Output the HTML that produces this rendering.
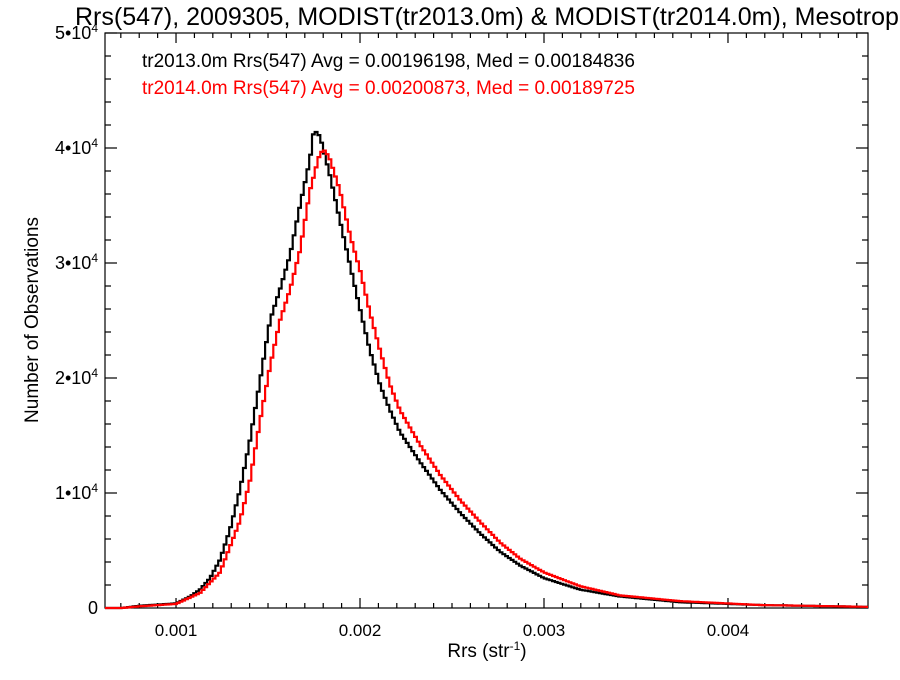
<!DOCTYPE html>
<html><head><meta charset="utf-8"><style>
body{margin:0;background:#fff;width:900px;height:675px;overflow:hidden}
svg text{font-family:"Liberation Sans",Helvetica,sans-serif}
</style></head><body>
<svg id="chart" width="900" height="675" xmlns="http://www.w3.org/2000/svg">
<text x="75" y="25" font-size="25">Rrs(547), 2009305, MODIST(tr2013.0m) &amp; MODIST(tr2014.0m), Mesotrophic</text>
<rect x="105" y="33" width="763" height="575" fill="none" stroke="#000" stroke-width="1.2"/>
<g id="ticks"></g>
<g id="series"></g>
<text x="142" y="67" font-size="19">tr2013.0m Rrs(547) Avg = 0.00196198, Med = 0.00184836</text>
<text x="142" y="94" font-size="19" fill="#ff0000">tr2014.0m Rrs(547) Avg = 0.00200873, Med = 0.00189725</text>
<text x="487" y="657" font-size="19" text-anchor="middle">Rrs (str<tspan dy="-7" font-size="12">-1</tspan><tspan dy="7">)</tspan></text>
<text transform="translate(38,320) rotate(-90)" font-size="19" text-anchor="middle">Number of Observations</text>
</svg>
<script>
const xTicks=[0.001,0.002,0.003,0.004];
const xTickLabels=["0.001","0.002","0.003","0.004"];
const yTicks=[0,10000,20000,30000,40000,50000];
const yTickLabels=["0","1","2","3","4","5"];
const xBlack=[0.000804,0.001,0.001076,0.00113,0.001185,0.001239,0.001293,0.001348,0.001402,0.001457,0.001511,0.001565,0.00162,0.001674,0.001728,0.00175,0.001783,0.001837,0.001891,0.001946,0.002,0.002054,0.002109,0.002163,0.002217,0.002326,0.002435,0.002543,0.002652,0.002761,0.00287,0.003,0.003196,0.003413,0.003739,0.004174,0.004761];
const yBlack=[200,400,1000,1600,2600,4200,6800,10300,14600,19800,25000,27700,30700,35000,39000,41600,41000,37600,33700,29800,26000,22400,19400,17200,15300,12700,10300,8300,6500,4900,3700,2600,1600,1000,500,260,100];
const xRed=[0.000804,0.001,0.00113,0.001239,0.001348,0.001402,0.001457,0.001511,0.001565,0.00162,0.001674,0.001728,0.001783,0.00181,0.001837,0.001891,0.001946,0.002,0.002054,0.002109,0.002163,0.002217,0.002326,0.002435,0.002543,0.002652,0.002761,0.00287,0.003,0.003196,0.003413,0.003739,0.004174,0.004761];
const yRed=[150,350,1300,3100,7600,11100,16300,21000,25000,27700,31100,36300,39600,39800,39000,36300,32400,29400,25700,22400,19400,17200,14200,11600,9400,7500,5700,4300,3100,1900,1100,600,260,100];
const X0=105,X1=868,Y0=608,Y1=33,XMIN=0.000614,XMAX=0.004761,YMAX=50000;
function sx(v){return X0+(v-XMIN)/(XMAX-XMIN)*(X1-X0);}
function sy(v){return Y0-v/YMAX*(Y0-Y1);}
const NS="http://www.w3.org/2000/svg";
const tg=document.getElementById('ticks');
function line(x1,y1,x2,y2,name){const l=document.createElementNS(NS,'line');
l.setAttribute('x1',x1);l.setAttribute('y1',y1);l.setAttribute('x2',x2);l.setAttribute('y2',y2);
l.setAttribute('stroke','#000');l.setAttribute('stroke-width','1.2');


tg.appendChild(l);}
for(let k=7;k<=47;k++){const v=k*0.0001;if(v<XMIN||v>XMAX)continue;const x=sx(v);const major=k%10===0;const L=major?10:5;
line(x,Y0,x,Y0-L,'x-tick');line(x,Y1,x,Y1+L,'x-tick-top');}
for(let k=0;k<=25;k++){const v=k*2000;const y=sy(v);const major=k%5===0;const L=major?12:6;
line(X0,y,X0+L,y,'y-tick');line(X1,y,X1-L,y,'y-tick-right');}
xTicks.forEach((v,i)=>{const t=document.createElementNS(NS,'text');
t.setAttribute('x',sx(v));t.setAttribute('y',Y0+28);t.setAttribute('font-size','17');t.setAttribute('text-anchor','middle');
t.textContent=xTickLabels[i];


tg.appendChild(t);});
yTicks.forEach((v,i)=>{const t=document.createElementNS(NS,'text');
t.setAttribute('x',98);t.setAttribute('y',sy(v)+6);t.setAttribute('font-size','18');t.setAttribute('text-anchor','end');
if(v===0){t.textContent='0';}else{t.textContent=yTickLabels[i]+'•10';const s=document.createElementNS(NS,'tspan');s.setAttribute('dy','-7');s.setAttribute('font-size','12');s.textContent='4';t.appendChild(s);}


tg.appendChild(t);});
function valAt(xs,ys,x){if(x<=xs[0]){return x<xs[0]-0.0001?0:ys[0]*(x-(xs[0]-0.0001))/0.0001;}
if(x>=xs[xs.length-1])return ys[ys.length-1];
for(let i=0;i<xs.length-1;i++){if(x>=xs[i]&&x<=xs[i+1]){const t=(x-xs[i])/(xs[i+1]-xs[i]);return ys[i]+t*(ys[i+1]-ys[i]);}}return 0;}
function stepPath(xs,ys){const w=0.000015;let d='M'+X0+','+sy(0);
for(let a=XMIN;a<XMAX;a+=w){const b=Math.min(a+w,XMAX);const y=sy(valAt(xs,ys,a+w/2));d+='L'+sx(a).toFixed(1)+','+y.toFixed(1)+'L'+sx(b).toFixed(1)+','+y.toFixed(1);}
return d;}
const sg=document.getElementById('series');
function series(xs,ys,col,name){const p=document.createElementNS(NS,'path');
p.setAttribute('d',stepPath(xs,ys));
p.setAttribute('fill','none');p.setAttribute('stroke',col);p.setAttribute('stroke-width','2.2');


sg.appendChild(p);}
series(xBlack,yBlack,'#000','black-histogram');
series(xRed,yRed,'#ff0000','red-histogram');
</script>
</body></html>
